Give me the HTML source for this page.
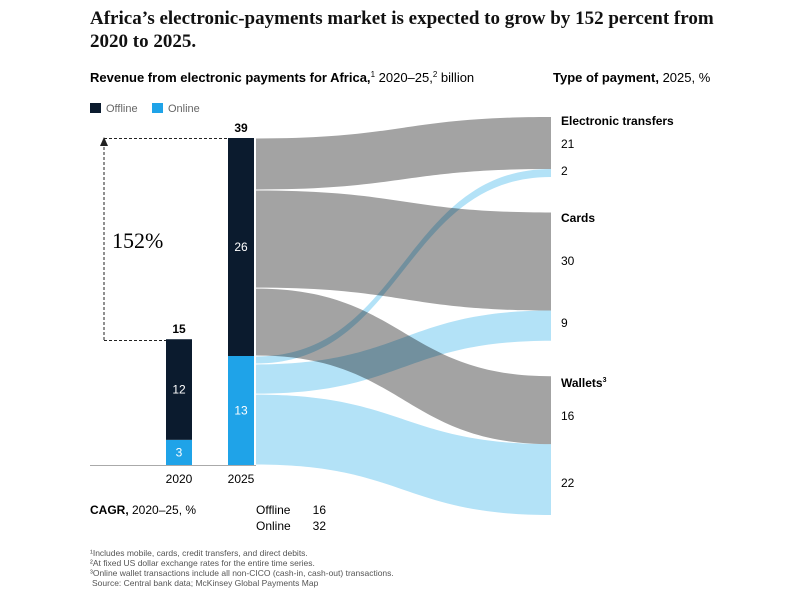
<!DOCTYPE html>
<html><head><meta charset="utf-8"><style>
body{margin:0;background:#fff;width:787px;height:600px;overflow:hidden;font-family:"Liberation Sans",sans-serif;color:#111}
svg{position:absolute;left:0;top:0}
.mul{mix-blend-mode:multiply}
</style></head><body>
<svg width="787" height="600">
<text x="90" y="24" font-family="Liberation Serif,serif" font-size="19" font-weight="bold" fill="#111">Africa’s electronic-payments market is expected to grow by 152 percent from</text>
<text x="90" y="47" font-family="Liberation Serif,serif" font-size="19" font-weight="bold" fill="#111">2020 to 2025.</text>
<text x="90" y="82" font-size="13"><tspan font-weight="bold">Revenue from electronic payments for Africa,</tspan><tspan font-size="8" dy="-5">1</tspan><tspan dy="5"> 2020–25,</tspan><tspan font-size="8" dy="-5">2</tspan><tspan dy="5"> billion</tspan></text>
<text x="553" y="82" font-size="13"><tspan font-weight="bold">Type of payment,</tspan> 2025, %</text>
<g>
<rect x="90" y="103" width="11" height="10" fill="#0b1b2e"/>
<text x="106" y="112" font-size="11" fill="#666">Offline</text>
<rect x="152" y="103" width="11" height="10" fill="#1fa3e8"/>
<text x="168" y="112" font-size="11" fill="#666">Online</text>
</g>
<g id="plot"></g>
<line x1="90" y1="465.5" x2="256" y2="465.5" stroke="#aaa"/>
<g>
<path d="M104 340 V140 M104 138.5 H228 M104 340.5 H166" stroke="#222" stroke-dasharray="3,2" fill="none"/>
<path d="M100 146 L104 137 L108 146 Z" fill="#222"/>
<text x="112" y="248" font-family="Liberation Serif,serif" font-size="22">152%</text>
</g>
<text x="90" y="514" font-size="12"><tspan font-weight="bold">CAGR,</tspan> 2020–25, %</text>
<text x="256" y="514" font-size="12">Offline</text>
<text x="326" y="514" font-size="12" text-anchor="end">16</text>
<text x="256" y="530" font-size="12">Online</text>
<text x="326" y="530" font-size="12" text-anchor="end">32</text>
<g font-size="8.5" fill="#555">
<text x="90" y="556">¹Includes mobile, cards, credit transfers, and direct debits.</text>
<text x="90" y="566">²At fixed US dollar exchange rates for the entire time series.</text>
<text x="90" y="576">³Online wallet transactions include all non-CICO (cash-in, cash-out) transactions.</text>
<text x="92" y="586">Source: Central bank data; McKinsey Global Payments Map</text>
</g>
</svg>
<script>
const years=['2020','2025'];
const offline=[12,26];
const online=[3,13];
const categories=['Electronic transfers','Cards','Wallets'];
const offlineShare=[21,30,16];
const onlineShare=[2,9,22];
// flow sizes as drawn, billion
const offlineFlow=[6.2,11.7,8.1];
const onlineFlow=[0.95,3.6,8.45];
const NS='http://www.w3.org/2000/svg';
const g=document.getElementById('plot');
const base=465, k=327/39;
const barX=[166,228], bw=26;
function y(v){return base-v*k;}
function mk(t,a,txt){const e=document.createElementNS(NS,t);for(const p in a)e.setAttribute(p,a[p]);if(txt!==undefined)e.textContent=txt;g.appendChild(e);return e;}
function band(y0a,y0b,y1a,y1b,fill,op,name,cls){
 const x0=256,x1=551,c=(x0+x1)/2;
 const e=mk('path',{d:`M${x0} ${y0a} C${c} ${y0a} ${c} ${y1a} ${x1} ${y1a} L${x1} ${y1b} C${c} ${y1b} ${c} ${y0b} ${x0} ${y0b} Z`,fill:fill,'fill-opacity':op});
 if(cls)e.setAttribute('class',cls);
 
 
}
let tops=[], ry=117, gap=35.5;
for(let i=0;i<3;i++){tops.push(ry);ry+=(offlineFlow[i]+onlineFlow[i])*k+gap;}
let so=y(offline[1]+online[1]);
for(let i=0;i<3;i++){const h=offlineFlow[i]*k;band(so+0.5,so+h-0.5,tops[i],tops[i]+h,'#a3a3a3',1,'flow-offline-'+i,'mul');so+=h;}
let sn=y(online[1]);
for(let i=0;i<3;i++){const h=onlineFlow[i]*k;const rt=tops[i]+offlineFlow[i]*k;band(sn+0.5,sn+h-0.5,rt,rt+h,'#b3e2f7',1,'flow-online-'+i,'mul');sn+=h;}
const labelY=[121,218,383], offY=[144,261,416], onY=[171,323,483];
for(let i=0;i<3;i++){
 const t=mk('text',{x:561,y:labelY[i]+4,'font-size':12,'font-weight':'bold'},categories[i]);
 if(i==2){const s=document.createElementNS(NS,'tspan');s.setAttribute('font-size','7');s.setAttribute('dy','-5');s.textContent='3';t.appendChild(s);}
 
 
 const a=mk('text',{x:561,y:offY[i]+4,'font-size':12},offlineShare[i]);
 
 
 const b=mk('text',{x:561,y:onY[i]+4,'font-size':12},onlineShare[i]);
 
 
}
for(let i=0;i<2;i++){
 const x=barX[i];
 const r1=mk('rect',{x:x,y:y(online[i]),width:bw,height:online[i]*k,fill:'#1fa3e8'});
 
 
 const r2=mk('rect',{x:x,y:y(online[i]+offline[i]),width:bw,height:offline[i]*k,fill:'#0b1b2e'});
 
 
 const t1=mk('text',{x:x+bw/2,y:y(online[i]/2)+4,'font-size':12,fill:'#fff','text-anchor':'middle'},online[i]);
 
 
 const t2=mk('text',{x:x+bw/2,y:y(online[i]+offline[i]/2)+4,'font-size':12,fill:'#fff','text-anchor':'middle'},offline[i]);
 
 
 const t3=mk('text',{x:x+bw/2,y:y(online[i]+offline[i])-6,'font-size':12,'font-weight':'bold','text-anchor':'middle'},online[i]+offline[i]);
 
 
 const t4=mk('text',{x:x+bw/2,y:483,'font-size':12,'text-anchor':'middle'},years[i]);
 
 
}
</script>
</body></html>
